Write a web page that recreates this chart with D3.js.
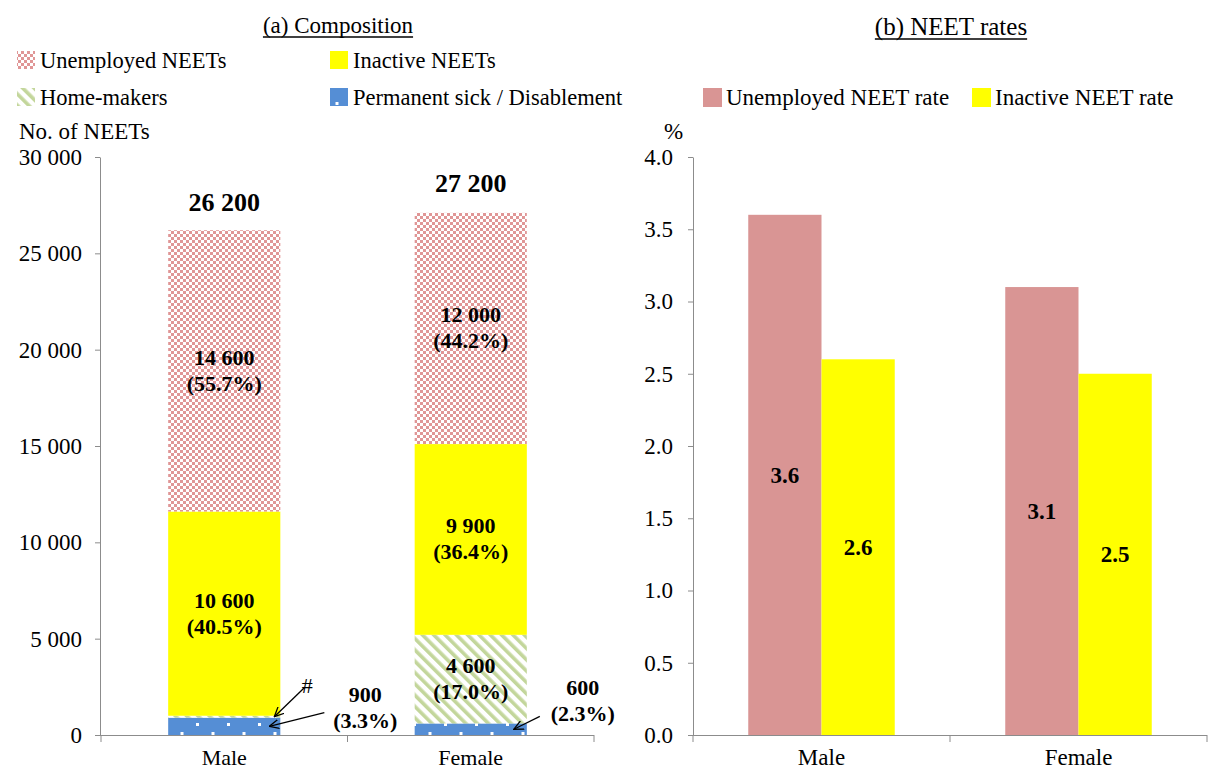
<!DOCTYPE html>
<html>
<head>
<meta charset="utf-8">
<script src="https://cdn.jsdelivr.net/npm/d3@7"></script>
<style>
  body { margin: 0; background: #fff; }
  svg, svg text { font-family: "Times New Roman", "Liberation Serif", "DejaVu Serif", serif; }
</style>
</head>
<body>
<svg id="chart" width="1209" height="771"></svg>
<script>
// ---- Data -------------------------------------------------------------
const genders = ["Male", "Female"];

// (a) composition of NEETs (persons), stacked bottom to top
const sickCount       = [900, 600];     // Permanent sick / Disablement
const homeMakerCount  = [100, 4600];    // Home-makers (male figure suppressed, shown as "#")
const inactiveCount   = [10600, 9900];  // Inactive NEETs (other)
const unemployedCount = [14600, 12000]; // Unemployed NEETs
const totalCount      = [26200, 27200];

const sickPct       = [3.3, 2.3];
const homeMakerPct  = [null, 17.0];
const inactivePct   = [40.5, 36.4];
const unemployedPct = [55.7, 44.2];

const countTicks = [0, 5000, 10000, 15000, 20000, 25000, 30000];

// (b) NEET rates (%)
const rateSeries = ["Unemployed NEET rate", "Inactive NEET rate"];
const unemployedRate = [3.6, 3.1];
const inactiveRate   = [2.6, 2.5];
const rateTicks = [0, 0.5, 1.0, 1.5, 2.0, 2.5, 3.0, 3.5, 4.0];

// ---- Setup ------------------------------------------------------------
const FONT = "'Times New Roman', 'Liberation Serif', 'DejaVu Serif', serif";
const svg = d3.select("#chart").attr("font-family", FONT);
const axisColor = "#8c8c8c";
const pink = "#d99594", yellow = "#ffff00", green = "#c3d69b", blue = "#558ed5";

const loc = d3.formatLocale({decimal: ".", thousands: " ", grouping: [3], currency: ["", ""]});
const fmtCount = loc.format(",");
const fmtRate = d3.format(".1f");

// fill patterns
const defs = svg.append("defs");
const pUn = defs.append("pattern").attr("id", "patUnemp")
  .attr("patternUnits", "userSpaceOnUse").attr("width", 6).attr("height", 6);
pUn.append("rect").attr("width", 6).attr("height", 6).attr("fill", "#fff");
pUn.append("rect").attr("width", 3).attr("height", 3).attr("fill", "#e09696");
pUn.append("rect").attr("x", 3).attr("y", 3).attr("width", 3).attr("height", 3).attr("fill", "#e09696");

const pHm = defs.append("pattern").attr("id", "patHome")
  .attr("patternUnits", "userSpaceOnUse").attr("width", 8).attr("height", 8)
  .attr("patternTransform", "rotate(-45)");
pHm.append("rect").attr("width", 8).attr("height", 8).attr("fill", "#fff");
pHm.append("rect").attr("width", 3.6).attr("height", 8).attr("fill", green);

const pSk = defs.append("pattern").attr("id", "patSick")
  .attr("patternUnits", "userSpaceOnUse").attr("width", 31).attr("height", 18)
  .attr("x", 10).attr("y", 3);
pSk.append("rect").attr("width", 31).attr("height", 18).attr("fill", blue);
pSk.append("rect").attr("x", 0).attr("y", 0).attr("width", 3).attr("height", 3).attr("fill", "#fff");
pSk.append("rect").attr("x", 15.5).attr("y", 9).attr("width", 3).attr("height", 3).attr("fill", "#fff");

defs.append("marker").attr("id", "arrow")
  .attr("viewBox", "0 0 10 10").attr("refX", 9.5).attr("refY", 5)
  .attr("markerWidth", 10).attr("markerHeight", 10).attr("markerUnits", "userSpaceOnUse")
  .attr("orient", "auto")
  .append("path").attr("d", "M0,0.5 L9.5,5 L0,9.5").attr("fill", "none")
  .attr("stroke", "#000").attr("stroke-width", 1.3);

function styleAxis(g, size) {
  g.attr("font-family", FONT);
  g.selectAll(".domain").attr("stroke", axisColor);
  g.selectAll(".tick line").attr("stroke", axisColor);
  g.selectAll(".tick text").attr("fill", "#000").attr("font-size", size).attr("font-family", FONT);
}

// ---- (a) Composition --------------------------------------------------
const yA = d3.scaleLinear().domain([0, 30000]).range([735, 157]);
const xA = d3.scaleBand().domain(genders).range([101, 594]).paddingInner(0.545).paddingOuter(0.2725);

const gA = svg.append("g");
gA.append("g").attr("transform", "translate(100,0)")
  .call(d3.axisLeft(yA).tickValues(countTicks).tickSize(5).tickSizeOuter(0).tickPadding(13)
    .tickFormat(d => d === 0 ? "0" : fmtCount(d)))
  .call(styleAxis, 23);

// bottom axis with ticks at category boundaries
gA.append("line").attr("x1", 100).attr("x2", 594).attr("y1", 735.5).attr("y2", 735.5).attr("stroke", axisColor);
[101, 101 + xA.step(), 101 + 2 * xA.step()].forEach(x =>
  gA.append("line").attr("x1", x).attr("x2", x).attr("y1", 735).attr("y2", 742).attr("stroke", axisColor));
gA.selectAll(".catA").data(genders).join("text")
  .attr("x", d => xA(d) + xA.bandwidth() / 2).attr("y", 765)
  .attr("text-anchor", "middle").attr("font-size", 22).text(d => d);

// stacked segments
const segments = [
  {key: "sick", values: sickCount, fill: "url(#patSick)"},
  {key: "home", values: homeMakerCount, fill: "url(#patHome)"},
  {key: "inactive", values: inactiveCount, fill: yellow},
  {key: "unemp", values: unemployedCount, fill: "url(#patUnemp)"}
];
const stackRows = genders.map((g, i) => {
  const row = {gender: g};
  segments.forEach(s => row[s.key] = s.values[i]);
  return row;
});
const stacked = d3.stack().keys(segments.map(s => s.key))(stackRows);

stacked.forEach((layer, li) => {
  gA.selectAll(".seg-" + layer.key).data(layer).join("rect")
    .attr("x", d => xA(d.data.gender))
    .attr("width", xA.bandwidth())
    .attr("y", d => yA(d[1]))
    .attr("height", d => yA(d[0]) - yA(d[1]))
    .attr("fill", segments[li].fill);
});

// two-line value / share labels
function pairLabel(g, cx, cy, v, p) {
  const t = g.append("text").attr("text-anchor", "middle").attr("font-size", 22).attr("font-weight", "bold");
  t.append("tspan").attr("x", cx).attr("y", cy - 6).text(fmtCount(v));
  t.append("tspan").attr("x", cx).attr("y", cy + 20).text("(" + d3.format(".1f")(p) + "%)");
}
const layerByKey = {};
stacked.forEach(l => layerByKey[l.key] = l);
genders.forEach((g, i) => {
  const cx = xA(g) + xA.bandwidth() / 2;
  const u = layerByKey.unemp[i];
  pairLabel(gA, cx, yA((u[0] + u[1]) / 2), unemployedCount[i], unemployedPct[i]);
  const a = layerByKey.inactive[i];
  pairLabel(gA, cx, yA((a[0] + a[1]) / 2), inactiveCount[i], inactivePct[i]);
  if (homeMakerPct[i] !== null) {
    const h = layerByKey.home[i];
    pairLabel(gA, cx, yA((h[0] + h[1]) / 2), homeMakerCount[i], homeMakerPct[i]);
  }
  // totals
  gA.append("text").attr("x", cx).attr("y", yA(totalCount[i]) - 19)
    .attr("text-anchor", "middle").attr("font-size", 26).attr("font-weight", "bold")
    .text(fmtCount(totalCount[i]));
});

// callouts for thin segments
const mX = xA("Male"), fX = xA("Female"), bw = xA.bandwidth();
const sM = layerByKey.sick[0], hM = layerByKey.home[0], sF = layerByKey.sick[1];
gA.append("text").attr("x", mX + bw + 27).attr("y", yA(hM[1]) - 23)
  .attr("text-anchor", "middle").attr("font-size", 22).text("#");
gA.append("line").attr("x1", mX + bw + 24).attr("y1", yA(hM[1]) - 28)
  .attr("x2", mX + bw - 6).attr("y2", yA((hM[0] + hM[1]) / 2))
  .attr("stroke", "#000").attr("stroke-width", 1.3).attr("marker-end", "url(#arrow)");
pairLabel(gA, mX + bw + 85, yA(sM[1]) - 10, sickCount[0], sickPct[0]);
gA.append("line").attr("x1", mX + bw + 44).attr("y1", yA(sM[1]) - 5)
  .attr("x2", mX + bw - 11).attr("y2", yA((sM[0] + sM[1]) / 2))
  .attr("stroke", "#000").attr("stroke-width", 1.3).attr("marker-end", "url(#arrow)");
pairLabel(gA, fX + bw + 56, yA(sF[1]) - 22, sickCount[1], sickPct[1]);
gA.append("line").attr("x1", fX + bw + 13).attr("y1", yA(sF[1]) - 7)
  .attr("x2", fX + bw - 13).attr("y2", yA((sF[0] + sF[1]) / 2))
  .attr("stroke", "#000").attr("stroke-width", 1.3).attr("marker-end", "url(#arrow)");

// titles, axis captions, legends
function underlinedTitle(x, y, txt, size) {
  const t = svg.append("text").attr("x", x).attr("y", y).attr("text-anchor", "middle")
    .attr("font-size", size).text(txt);
  const w = t.node().getComputedTextLength();
  svg.append("line").attr("x1", x - w / 2).attr("x2", x + w / 2)
    .attr("y1", y + 4).attr("y2", y + 4).attr("stroke", "#000").attr("stroke-width", 1.3);
}
underlinedTitle(338, 33, "(a) Composition", 23);
svg.append("text").attr("x", 19).attr("y", 139).attr("font-size", 23).text("No. of NEETs");

const legA = [
  {label: "Unemployed NEETs", fill: "url(#patUnemp)", x: 17, y: 51},
  {label: "Inactive NEETs", fill: yellow, x: 330, y: 51},
  {label: "Home-makers", fill: "url(#patHome)", x: 17, y: 88},
  {label: "Permanent sick / Disablement", fill: "url(#patSick)", x: 330, y: 88}
];
legA.forEach(d => {
  svg.append("rect").attr("x", d.x).attr("y", d.y).attr("width", 18).attr("height", 18).attr("fill", d.fill);
  svg.append("text").attr("x", d.x + 23).attr("y", d.y + 17).attr("font-size", 22.5).text(d.label);
});

// ---- (b) NEET rates ---------------------------------------------------
const yB = d3.scaleLinear().domain([0, 4]).range([735, 157]);
const xB = d3.scaleBand().domain(genders).range([693, 1207]).paddingInner(0.43).paddingOuter(0.215);
const xBs = d3.scaleBand().domain(rateSeries).range([0, xB.bandwidth()]);
const rateColor = d3.scaleOrdinal().domain(rateSeries).range([pink, yellow]);

const gB = svg.append("g");
gB.append("g").attr("transform", "translate(693,0)")
  .call(d3.axisLeft(yB).tickValues(rateTicks).tickSize(5).tickSizeOuter(0).tickPadding(15).tickFormat(fmtRate))
  .call(styleAxis, 23);
gB.append("line").attr("x1", 688).attr("x2", 1207).attr("y1", 735.5).attr("y2", 735.5).attr("stroke", axisColor);
[693, 693 + xB.step(), 693 + 2 * xB.step()].forEach(x =>
  gB.append("line").attr("x1", x).attr("x2", x).attr("y1", 735).attr("y2", 742).attr("stroke", axisColor));
gB.selectAll(".catB").data(genders).join("text")
  .attr("x", d => xB(d) + xB.bandwidth() / 2).attr("y", 765)
  .attr("text-anchor", "middle").attr("font-size", 23).text(d => d);

const rateRows = genders.flatMap((g, i) => [
  {gender: g, series: rateSeries[0], value: unemployedRate[i]},
  {gender: g, series: rateSeries[1], value: inactiveRate[i]}
]);
gB.selectAll(".rateBar").data(rateRows).join("rect")
  .attr("x", d => xB(d.gender) + xBs(d.series))
  .attr("width", xBs.bandwidth())
  .attr("y", d => yB(d.value))
  .attr("height", d => yB(0) - yB(d.value))
  .attr("fill", d => rateColor(d.series));
gB.selectAll(".rateLbl").data(rateRows).join("text")
  .attr("x", d => xB(d.gender) + xBs(d.series) + xBs.bandwidth() / 2)
  .attr("y", d => (yB(d.value) + yB(0)) / 2 + 8)
  .attr("text-anchor", "middle").attr("font-size", 23).attr("font-weight", "bold")
  .text(d => fmtRate(d.value));

underlinedTitle(951, 35, "(b) NEET rates", 25);
svg.append("text").attr("x", 664).attr("y", 139).attr("font-size", 23).text("%");

const legB = [
  {label: rateSeries[0], x: 703},
  {label: rateSeries[1], x: 972}
];
legB.forEach(d => {
  svg.append("rect").attr("x", d.x).attr("y", 88).attr("width", 19).attr("height", 19).attr("fill", rateColor(d.label));
  svg.append("text").attr("x", d.x + 23).attr("y", 105).attr("font-size", 23).text(d.label);
});
</script>
</body>
</html>
